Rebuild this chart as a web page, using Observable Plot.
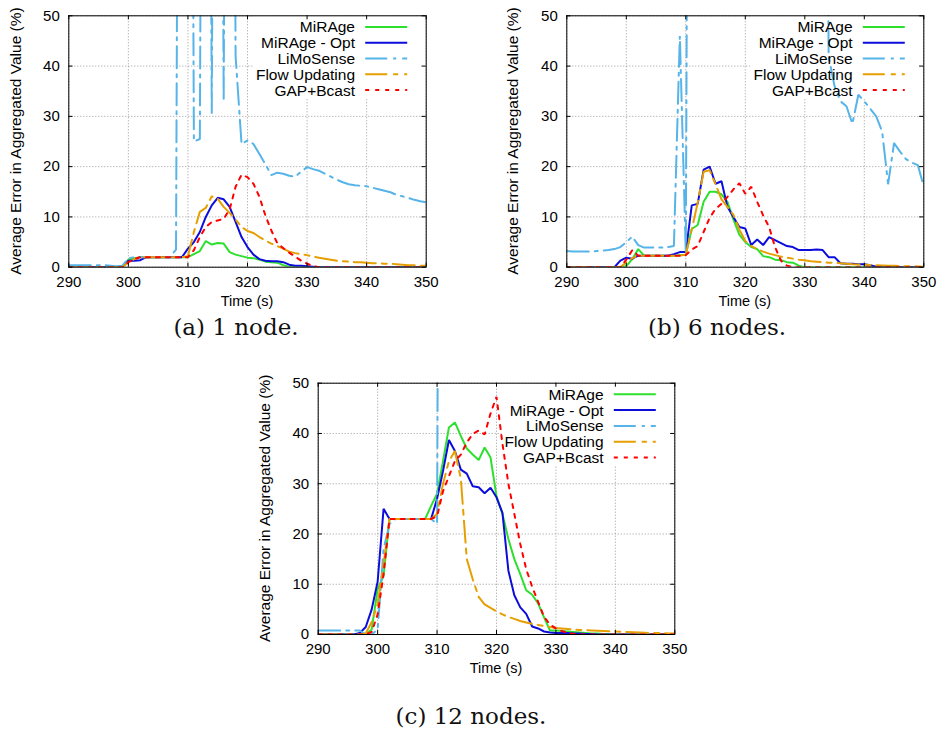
<!DOCTYPE html>
<html><head><meta charset="utf-8">
<script src="https://cdn.jsdelivr.net/npm/d3@7"></script>
<script src="https://cdn.jsdelivr.net/npm/@observablehq/plot@0.6"></script>
<style>
body{margin:0;background:#fff;}
#page{position:relative;width:939px;height:731px;overflow:hidden;background:#fff;font-family:"Liberation Sans",Arial,sans-serif;}
.panel{position:absolute;}
.caption{position:absolute;font-family:"DejaVu Serif",serif;font-size:23px;transform:translate(-50%,-50%);white-space:nowrap;color:#111;}
</style></head><body><div id="page"></div>
<script>
// ---- data ----
const time = [290,291,292,293,294,295,296,297,298,299,
  300,301,302,303,304,305,306,307,308,309,
  310,311,312,313,314,315,316,317,318,319,
  320,321,322,323,324,325,326,327,328,329,
  330,331,332,333,334,335,336,337,338,339,
  340,341,342,343,344,345,346,347,348,349,350];
const xTicks = [290,300,310,320,330,340,350];
const yTicks = [0,10,20,30,40,50];
const seriesNames = ["MiRAge", "MiRAge - Opt", "LiMoSense", "Flow Updating", "GAP+Bcast"];
const captions = ["(a) 1 node.", "(b) 6 nodes.", "(c) 12 nodes."];

// (a) 1 node
const a_mirage = [0,0,0,0,0,0,0,0,0,0,
  1.5,1.8,2,2,2,2,2,2,2,2,
  2,2.6,3.2,5.2,4.5,4.8,4.7,3,2.5,2.2,
  1.9,1.8,1.5,1.1,1,0.9,0.4,0.1,0,0,
  0,0,0,0,0,0,0,0,0,0,
  0,0,0,0,0,0,0,0,0,0,0];
const a_opt = [0,0,0,0,0,0,0,0,0,0.1,
  1.3,1.3,1.4,2,2,2,2,2,2,2,
  3.7,5,7,10,12.3,13.8,13.5,12,9,6,
  4,2.5,1.6,1.3,1.2,1.2,1,0.5,0.3,0.3,
  0.2,0.1,0,0,0,0,0,0,0,0,
  0,0,0,0,0,0,0,0,0,0,0];
const a_limo = [0.4,0.4,0.4,0.4,0.4,0.4,0.4,0.3,0.2,0.3,
  1.8,2,2,2,2,2,2,2,3.5,300,
  300,25,25.5,300,30.5,300,33,300,42,24.5,
  25.2,24.5,22.5,20.5,18.3,18.8,18.6,18.2,18,19,
  19.9,19.5,19.2,18.6,18,17.4,16.9,16.5,16.3,16.2,
  16.1,15.8,15.5,15.2,14.9,14.4,14.1,13.8,13.4,13.1,12.9];
const a_flow = [0,0,0,0,0,0,0,0,0,0,
  1,1.6,2,2,2,2,2,2,2,2,
  2.2,7,11,11.8,14.1,13.6,12,10.8,9.5,8,
  7.2,6.8,6,5.3,4.7,4.2,3.7,3.1,2.8,2.6,
  2.4,2.1,1.9,1.7,1.5,1.3,1.2,1.1,1,1,
  0.9,0.8,0.8,0.7,0.7,0.6,0.5,0.4,0.4,0.3,0.3];
const a_gap = [0,0,0,0,0,0,0,0,0,0,
  1,1.6,2,2,2,2,2,2,2,2,
  2,3.4,6,8,9,9.3,9.6,11.5,16,18.4,
  17.9,16.6,14,10.3,7.3,4.8,3.8,2.9,2.1,1.3,
  0.7,0.2,0,0,0,0,0,0,0,0,
  0,0,0,0,0,0,0,0,0,0,0];

// (b) 6 nodes
const b_mirage = [0,0,0,0,0,0,0,0,0,0,
  0.2,1.6,3.6,2.3,2.3,2.3,2.3,2.3,2.3,2.4,
  2.5,7.6,8.4,13,15,15,14.5,13,9.5,6.5,
  5,4,3.6,2.2,2,1.5,1.4,1,0.9,0.3,
  0,0,0,0,0,0,0,0,0,0,
  0,0,0,0,0,0,0,0,0,0,0];
const b_opt = [0,0,0,0,0,0,0,0,0,1.3,
  1.9,1.7,2.3,2.3,2.3,2.3,2.3,2.3,2.6,3,
  3,12.3,12.6,19.4,20,16.6,17.1,12,10,8,
  7.7,4.4,5.5,4.4,6,5.4,4.8,4.2,4,3.4,
  3.4,3.4,3.5,3.4,2,2,0.8,0.7,0.7,0.6,
  0.6,0.4,0.1,0,0,0,0,0,0,0,0];
const b_limo = [3.2,3.1,3.1,3.1,3.1,3.2,3.3,3.4,3.6,4,
  5,6.1,4.4,3.9,3.9,3.9,3.9,4,4.2,46,
  2.8,300,300,300,300,300,300,300,300,300,
  300,300,300,300,300,300,300,300,300,300,
  300,300,300,300,42,36,33,32,28.5,34.3,
  33,31.5,30,27,16.5,24.7,23,21.5,20.8,20.3,16];
const b_flow = [0,0,0,0,0,0,0,0,0,0,
  1,1.8,2.3,2.3,2.3,2.3,2.3,2.3,2.3,2.3,
  2.5,7.5,12.8,19,19.3,16.5,13.5,12,10.4,7.5,
  5.2,4.2,3.6,3.1,2.7,2.4,2.1,1.9,1.7,1.5,
  1.4,1.2,1.1,1,0.9,0.85,0.8,0.7,0.6,0.55,
  0.5,0.45,0.4,0.35,0.3,0.3,0.25,0.2,0.2,0.15,0.1];
const b_gap = [0,0,0,0,0,0,0,0,0,0,
  1.5,3.4,2.3,2.3,2.3,2.3,2.3,2.3,2.3,2.3,
  2.4,3.5,4.2,7,9.8,11.6,12.6,14,15.5,16.7,
  14.6,16,13,10.3,8,4,1.3,0.3,0,0,
  0,0,0,0,0,0,0,0,0,0,
  0,0,0,0,0,0,0,0,0,0,0];

// (c) 12 nodes
const c_mirage = [0,0,0,0,0,0,0,0,0,1,
  9,11.7,23,23,23,23,23,23,23,25.6,
  28,34.5,41.2,42.2,39.5,37,35.8,34.7,37.2,35.2,
  27.5,24,19,15,12,8.8,7.9,6.2,3.4,0.8,
  0.8,0.7,0.6,0.5,0.4,0.3,0.2,0.2,0.1,0.1,
  0,0,0,0,0,0,0,0,0,0,0];
const c_opt = [0,0,0,0,0,0,0,0.3,1.5,5,
  10.5,25,23,23,23,23,23,23,23,23,
  27,32.5,38.7,36.5,32.8,32,29.5,29.3,28.1,29.2,
  27.3,24.2,12.7,7.8,5.4,4.1,1.6,1.2,0.6,0.4,
  0.3,0.3,0.3,0.2,0.2,0.1,0.1,0,0,0,
  0,0,0,0,0,0,0,0,0,0,0];
const c_limo = [0.8,0.8,0.8,0.8,0.8,0.8,0.8,0.8,0,0,
  1,17,22,23,23,23,23,23,23,23,
  22,300,300,300,300,300,300,300,300,300,
  300,300,300,300,300,300,300,300,300,300,
  300,300,300,300,300,300,300,300,300,300,
  300,300,300,300,300,300,300,300,300,300,300];
const c_flow = [0,0,0,0,0,0,0,0,0.2,2.5,
  6,14,23,23,23,23,23,23,23,23,
  24,30,34.5,36.5,31,15,11,7.5,6,5.3,
  4.6,4,3.5,3.1,2.7,2.4,2.1,1.9,1.7,1.5,
  1.3,1.2,1.1,1,0.9,0.85,0.8,0.75,0.7,0.65,
  0.6,0.55,0.5,0.45,0.4,0.35,0.3,0.3,0.25,0.2,0.2];
const c_gap = [0,0,0,0,0,0,0,0,0,0.5,
  4,12,23,23,23,23,23,23,23,23,
  23.5,28.5,31.5,34.5,35.8,38.2,39.9,40.6,39.8,44,
  47.3,38,30,24,18,13,9.5,6.5,3.5,2,
  1.2,0.7,0.3,0.1,0,0,0,0,0,0,
  0,0,0,0,0,0,0,0,0,0,0];

// ---- styles ----
const lineColors = ["#2ee02e", "#0d0ddb", "#56b4e9", "#e69f00", "#ff0000"];
const lineDashes = [null, null, "22,6,3,6", "22,6,5,6", "4,6"];
const FONT = "'Liberation Sans', Arial, sans-serif";

const page = document.getElementById("page");

function panel(cfg) {
  const {left, top, width, height, m, series, caption, capX, capY, yLabelX} = cfg;
  const lineMarks = series.map((vals, k) => Plot.line(
    time.map((t, i) => ({t, v: vals[i]})),
    {x: "t", y: "v", stroke: lineColors[k], strokeWidth: 2,
     strokeDasharray: lineDashes[k] || undefined, clip: true, strokeLinejoin: "miter"}));
  const chart = Plot.plot({
    width, height,
    marginLeft: m.l, marginRight: m.r, marginTop: m.t, marginBottom: m.b,
    style: {fontFamily: FONT, fontSize: "15px", background: "white", overflow: "visible", color: "black"},
    x: {domain: [290, 350], label: null},
    y: {domain: [0, 50], label: null},
    marks: [
      Plot.gridX(xTicks, {stroke: "#9a9a9a", strokeOpacity: 1, strokeDasharray: "1,2"}),
      Plot.gridY(yTicks, {stroke: "#9a9a9a", strokeOpacity: 1, strokeDasharray: "1,2"}),
      ...lineMarks,
      Plot.ruleX(xTicks, {x: d => d, y1: 0, y2: 0.8, stroke: "black"}),
      Plot.ruleX(xTicks, {x: d => d, y1: 50, y2: 49.2, stroke: "black"}),
      Plot.ruleY(yTicks, {y: d => d, x1: 290, x2: 290.7, stroke: "black"}),
      Plot.ruleY(yTicks, {y: d => d, x1: 350, x2: 349.3, stroke: "black"}),
      Plot.frame({stroke: "black", strokeWidth: 1}),
      Plot.axisX(xTicks, {tickSize: 0, tickPadding: 9, label: null, fontSize: 15}),
      Plot.axisY(yTicks, {tickSize: 0, tickPadding: 9, label: null, fontSize: 15})
    ]
  });
  const div = document.createElement("div");
  div.className = "panel";
  div.style.left = left + "px"; div.style.top = top + "px";
  div.style.width = width + "px"; div.style.height = height + "px";
  div.appendChild(chart);
  page.appendChild(div);

  const svg = d3.select(chart);
  const fL = m.l, fR = width - m.r, fT = m.t, fB = height - m.b;

  // legend (key), gnuplot style: opaque box over the grid, lines drawn over it
  const textRight = fR - 70.7, sx1 = fR - 60.5, sx2 = fR - 18.5;
  const rowY = i => fT + 11.6 + i * 15.8;
  const leg = svg.append("g").attr("font-size", 15.5).attr("font-family", FONT);
  let maxW = 0;
  seriesNames.forEach((name, i) => {
    const t = leg.append("text").attr("x", textRight).attr("y", rowY(i))
      .attr("text-anchor", "end").attr("dy", "0.36em").attr("fill", "black").text(name);
    maxW = Math.max(maxW, t.node().getComputedTextLength());
    leg.append("line").attr("x1", sx1).attr("x2", sx2).attr("y1", rowY(i)).attr("y2", rowY(i))
      .attr("stroke", lineColors[i]).attr("stroke-width", 2)
      .attr("stroke-dasharray", lineDashes[i]);
  });
  const firstLine = chart.querySelector('g[aria-label="line"]');
  const bg = document.createElementNS("http://www.w3.org/2000/svg", "rect");
  const bx = textRight - maxW - 3;
  bg.setAttribute("x", bx); bg.setAttribute("y", fT + 0.5);
  bg.setAttribute("width", fR - 0.5 - bx); bg.setAttribute("height", 82.5);
  bg.setAttribute("fill", "white");
  if (firstLine) firstLine.parentNode.insertBefore(bg, firstLine);

  // axis titles
  svg.append("text").attr("x", (fL + fR) / 2).attr("y", fB + 34)
    .attr("text-anchor", "middle").attr("dy", "0.35em").attr("font-size", 14.5)
    .attr("font-family", FONT).attr("fill", "black").text("Time (s)");
  svg.append("text")
    .attr("transform", `translate(${yLabelX},${(fT + fB) / 2}) rotate(-90)`)
    .attr("text-anchor", "middle").attr("dy", "0.35em").attr("font-size", 15.5)
    .attr("font-family", FONT).attr("fill", "black")
    .text("Average Error in Aggregated Value (%)");

  const cap = document.createElement("div");
  cap.className = "caption";
  cap.style.left = capX + "px"; cap.style.top = capY + "px";
  cap.textContent = caption;
  page.appendChild(cap);
}

panel({left: 0, top: 0, width: 470, height: 310, m: {l: 68.3, r: 44.3, t: 15.3, b: 43.3},
  series: [a_mirage, a_opt, a_limo, a_flow, a_gap], caption: captions[0], capX: 236, capY: 327, yLabelX: 16});
panel({left: 470, top: 0, width: 469, height: 310, m: {l: 96.3, r: 15.7, t: 15.3, b: 43.3},
  series: [b_mirage, b_opt, b_limo, b_flow, b_gap], caption: captions[1], capX: 717, capY: 327, yLabelX: 43});
panel({left: 240, top: 368, width: 460, height: 310, m: {l: 77.7, r: 25.7, t: 14.7, b: 44},
  series: [c_mirage, c_opt, c_limo, c_flow, c_gap], caption: captions[2], capX: 471, capY: 716, yLabelX: 25});
</script></body></html>
